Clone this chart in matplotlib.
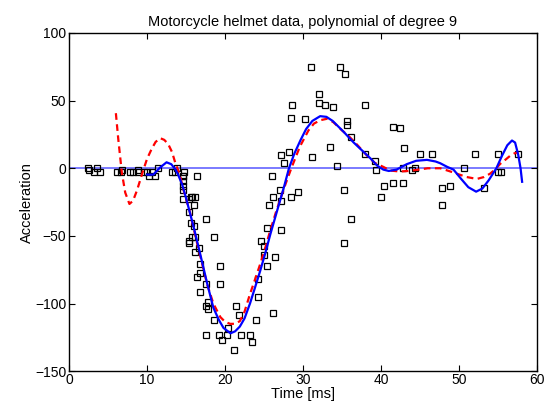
import numpy as np
import matplotlib
matplotlib.use('Agg')
import matplotlib.pyplot as plt

plt.rcParams['font.family'] = ['Liberation Sans', 'DejaVu Sans']

# mcycle data (time in ms, head acceleration in g)
czas = [2.4, 2.6, 3.2, 3.6, 4.0, 6.2, 6.6, 6.8, 7.8, 8.2, 8.8, 8.8, 9.6, 10.0, 10.2,
        10.6, 11.0, 11.4, 13.2, 13.6, 13.8, 14.6, 14.6, 14.6, 14.6, 14.6, 14.6, 14.8,
        15.4, 15.4, 15.4, 15.4, 15.6, 15.6, 15.8, 15.8, 16.0, 16.0, 16.2, 16.2, 16.2,
        16.4, 16.4, 16.6, 16.8, 16.8, 16.8, 17.6, 17.6, 17.6, 17.6, 17.8, 17.8, 18.6,
        18.6, 19.2, 19.4, 19.4, 19.6, 20.2, 20.4, 21.2, 21.4, 21.8, 22.0, 23.2, 23.4,
        24.0, 24.2, 24.2, 24.6, 25.0, 25.0, 25.4, 25.4, 25.6, 26.0, 26.2, 26.2, 26.4,
        27.0, 27.2, 27.2, 27.2, 27.6, 28.2, 28.4, 28.4, 28.6, 29.4, 30.2, 31.0, 31.2,
        32.0, 32.0, 32.8, 33.4, 33.8, 34.4, 34.8, 35.2, 35.2, 35.4, 35.6, 35.6, 36.2,
        36.2, 38.0, 38.0, 39.2, 39.4, 40.0, 40.4, 41.6, 41.6, 42.4, 42.8, 42.8, 43.0,
        44.0, 44.4, 45.0, 46.6, 47.8, 47.8, 48.8, 50.6, 52.0, 53.2, 55.0, 55.0, 55.4,
        57.6]
przysp = [0.0, -1.3, -2.7, 0.0, -2.7, -2.7, -2.7, -1.3, -2.7, -2.7, -1.3, -2.7, -2.7,
          -2.7, -5.4, -2.7, -5.4, 0.0, -2.7, -2.7, 0.0, -13.3, -5.4, -5.4, -9.3, -16.0,
          -22.8, -2.7, -22.8, -32.1, -53.5, -54.9, -40.2, -21.5, -21.5, -50.8, -42.9,
          -26.8, -21.5, -50.8, -61.7, -5.4, -80.4, -59.0, -71.0, -91.1, -77.7, -37.5,
          -85.6, -123.1, -101.9, -99.1, -104.4, -112.5, -50.8, -123.1, -85.6, -72.3,
          -127.2, -123.1, -117.9, -134.0, -101.9, -108.4, -123.1, -123.1, -128.5,
          -112.5, -95.1, -81.8, -53.5, -64.4, -57.6, -72.3, -44.3, -26.8, -5.4, -107.1,
          -21.5, -65.6, -16.0, -45.6, -24.2, 9.5, 4.0, 12.0, -21.5, 37.5, 46.9, -17.4,
          36.2, 75.0, 8.1, 54.9, 48.2, 46.9, 16.0, 45.6, 1.3, 75.0, -16.0, -54.9, 69.6,
          34.8, 32.1, -37.5, 22.8, 46.9, 10.7, 5.4, -1.3, -21.5, -13.3, 30.8, -10.7,
          29.4, 0.0, -10.7, 14.7, -1.3, 0.0, 10.7, 10.7, -26.8, -14.7, -13.3, 0.0, 10.7,
          -14.7, -2.7, 10.7, -2.7, 10.7]

# blue solid curve
t_nieb = [10.0, 10.8, 11.7, 12.5, 13.1, 13.6, 14.0, 14.5, 15.0, 15.5, 16.0, 16.8, 17.7,
          18.5, 19.2, 19.8, 20.7, 21.3, 21.9, 22.5, 23.2, 23.8, 24.5, 25.2, 25.8, 26.5,
          27.1, 27.6, 28.2, 28.9, 29.7, 30.4, 31.2, 32.2, 33.0, 33.8, 34.5, 35.2, 36.5,
          37.6, 38.7, 39.5, 40.3, 41.0, 42.0, 43.3, 44.5, 45.9, 47.0, 47.6, 48.5, 49.3,
          50.3, 51.2, 52.2, 53.0, 53.8, 54.8, 55.5, 56.2, 56.8, 57.2, 57.6, 57.9, 58.1]
a_nieb = [-4.7, -4.7, 0.7, 4.4, 3.0, -0.5, -5.0, -12.0, -22.0, -33.0, -44.0, -63.0, -85.0,
          -103.0, -112.0, -118.0, -122.0, -120.5, -117.0, -111.0, -100.0, -89.0, -76.0,
          -62.0, -49.0, -35.0, -23.0, -13.0, 0.0, 11.0, 21.0, 29.0, 35.0, 38.5, 38.0,
          35.0, 31.0, 27.0, 19.0, 13.0, 7.0, 2.0, -1.0, -2.0, -1.0, 3.0, 5.5, 6.2, 5.0,
          3.7, 1.0, -1.0, -8.0, -14.0, -17.3, -15.0, -9.0, 0.0, 9.0, 17.0, 20.5, 19.0,
          10.0, 0.0, -10.0]

# red dashed curve
t_czer = [6.0, 6.3, 6.76, 7.2, 7.74, 8.2, 8.7, 9.5, 10.0, 10.6, 11.1, 11.7, 12.2, 12.7,
          13.2, 13.6, 14.2, 14.7, 15.5, 16.4, 17.7, 18.5, 19.4, 20.0, 20.65, 21.3, 21.9,
          22.5, 23.2, 23.8, 24.5, 25.2, 25.8, 26.5, 27.1, 27.8, 28.5, 29.6, 30.7, 31.4,
          32.2, 33.1, 33.9, 35.0, 36.0, 37.0, 38.2, 39.2, 40.3, 41.2, 42.4, 43.5, 44.6,
          46.0, 47.6, 48.7, 49.7, 51.0, 52.3, 53.2, 54.0, 54.7, 55.3, 56.0, 56.6, 57.1,
          57.6]
a_czer = [40.7, 22.0, -3.0, -18.0, -26.4, -24.0, -16.5, -1.7, 7.0, 14.4, 19.5, 22.2,
          21.0, 18.0, 12.0, 4.4, -5.0, -16.5, -32.6, -55.0, -85.6, -100.0, -110.0,
          -113.5, -115.0, -115.0, -113.0, -106.0, -93.0, -83.0, -71.0, -58.0, -46.0,
          -33.0, -22.7, -11.0, 0.0, 16.0, 28.0, 33.0, 35.5, 36.6, 34.0, 28.0, 23.0,
          17.0, 9.4, 4.0, 1.0, -1.7, -2.4, -2.0, -1.2, 0.0, 0.0, -2.0, -4.0, -6.5,
          -7.9, -6.5, -4.0, -0.5, 3.3, 6.5, 9.4, 11.0, 11.8]

fig = plt.figure(figsize=(5.44, 4.07), dpi=100)
ax = fig.add_axes([0.127, 0.088, 0.86, 0.831])

ax.axhline(0, color='#7070ff', linewidth=1.3, zorder=1)
ax.plot(czas, przysp, 's', markersize=4.3, markerfacecolor='none',
        markeredgecolor='black', markeredgewidth=0.9, zorder=2)
ax.plot(t_czer, a_czer, color='red', linewidth=1.6, dashes=(3, 2), zorder=3)
ax.plot(t_nieb, a_nieb, color='blue', linewidth=1.6, zorder=4)

ax.set_xlim(0, 60)
ax.set_ylim(-150, 100)
ax.set_xticks(range(0, 61, 10))
ax.set_yticks(range(-150, 101, 50))
ax.tick_params(direction='in', top=True, right=True, labelsize=10, length=4)
ax.tick_params(axis='x', pad=1)
ax.tick_params(axis='y', pad=2)
for s in ax.spines.values():
    s.set_linewidth(1.0)

ax.set_xlabel('Time [ms]', fontsize=10.5, labelpad=0)
ax.set_ylabel('Acceleration', fontsize=10.5, labelpad=1)
ax.set_title('Motorcycle helmet data, polynomial of degree 9', fontsize=10.5, pad=5)

plt.savefig('out.png', dpi=100)
